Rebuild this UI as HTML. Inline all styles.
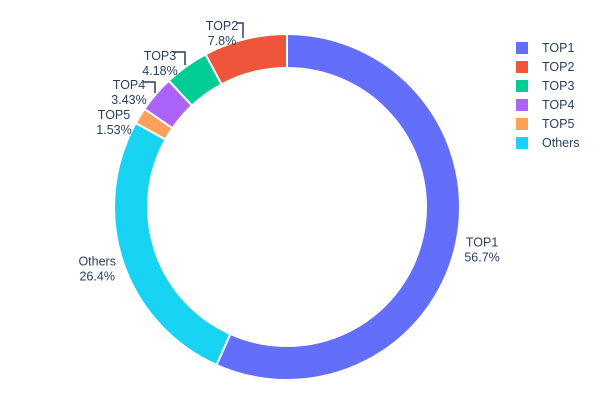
<!DOCTYPE html>
<html><head><meta charset="utf-8"><style>
body{margin:0;background:#fff;}
svg{display:block;font-family:"Liberation Sans",sans-serif;}
</style></head><body>
<svg id="c" width="600" height="400"></svg>
<script>
const labels = ["TOP1","Others","TOP5","TOP4","TOP3","TOP2"];
const values = [56.7,26.4,1.53,3.43,4.18,7.8];
const colors = ["#636efa","#19d3f3","#FFA15A","#ab63fa","#00cc96","#EF553B"];
const legendOrder = ["TOP1","TOP2","TOP3","TOP4","TOP5","Others"];
const NS="http://www.w3.org/2000/svg";
const svg=document.getElementById('c');
const cx=287,cy=207,R=173,r=139;
function mk(t,a){const e=document.createElementNS(NS,t);for(const k in a)e.setAttribute(k,a[k]);return e;}
function pt(ang,rad){return [cx+rad*Math.sin(ang),cy-rad*Math.cos(ang)];}
const total=values.reduce((a,b)=>a+b,0);
let a0=0;
const mids=[];
values.forEach((v,i)=>{
  const a1=a0+v/total*2*Math.PI;
  const [x0,y0]=pt(a0,R),[x1,y1]=pt(a1,R),[x2,y2]=pt(a1,r),[x3,y3]=pt(a0,r);
  const lg=(a1-a0)>Math.PI?1:0;
  const p=mk('path',{d:`M${x0},${y0}A${R},${R} 0 ${lg} 1 ${x1},${y1}L${x2},${y2}A${r},${r} 0 ${lg} 0 ${x3},${y3}Z`,fill:colors[i],stroke:'#fff','stroke-width':2});
  
  
  svg.appendChild(p);
  mids.push((a0+a1)/2);
  a0=a1;
});
// labels
const fixed={"TOP5":[114,107,null],"TOP4":[129,77,[143,82,155,82,155,93]],"TOP3":[160,48,[173,52,185,52,185,65]],"TOP2":[222,18,[237,23,243,23,243,38]]};
labels.forEach((l,i)=>{
  const g=mk('g',{});
  
  
  let x,y,anchor='middle';
  if(fixed[l]){[x,y]=fixed[l];
    const f=fixed[l][2];
    if(f){const pl=mk('polyline',{points:`${f[0]},${f[1]} ${f[2]},${f[3]} ${f[4]},${f[5]}`,fill:'none',stroke:'#2a3f5f','stroke-width':1.5});g.appendChild(pl);}
  } else {
    const [px,py]=pt(mids[i],R+6);
    const right=Math.sin(mids[i])>=0;
    x=px+(right?20:-20);y=py-10;
  }
  const t1=mk('text',{x:x,y:y+12,'font-size':12.5,fill:'#2a3f5f','text-anchor':anchor});
  t1.textContent=l;
  const t2=mk('text',{x:x,y:y+27,'font-size':12.5,fill:'#2a3f5f','text-anchor':anchor});
  t2.textContent=(+values[i].toFixed(2))+'%';
  g.appendChild(t1);g.appendChild(t2);svg.appendChild(g);
});
// legend
legendOrder.forEach((l,k)=>{
  const i=labels.indexOf(l);
  const g=mk('g',{});
  
  
  const y=48+k*19;
  g.appendChild(mk('rect',{x:516,y:y-6,width:12,height:12,fill:colors[i]}));
  const t=mk('text',{x:542,y:y+4,'font-size':12.5,fill:'#2a3f5f'});t.textContent=l;
  g.appendChild(t);svg.appendChild(g);
});
</script>
</body></html>
